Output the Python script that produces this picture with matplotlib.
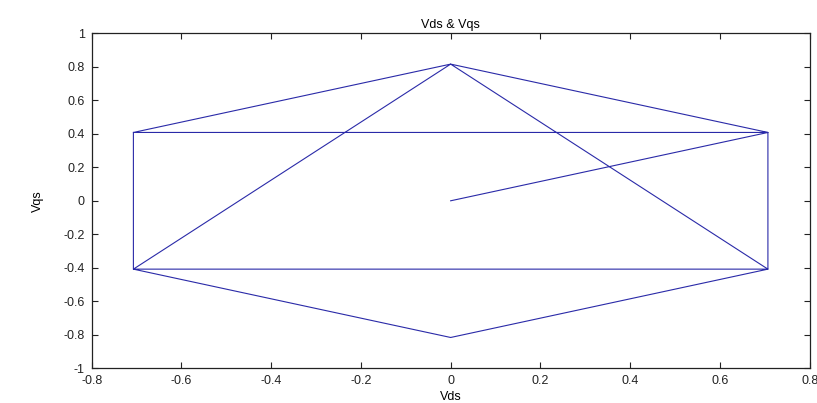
import matplotlib
matplotlib.use("Agg")
import matplotlib.pyplot as plt

# path of the space-vector trace (Vds, Vqs)
vds = [0.0, 0.707, 0.0, 0.707, 0.707, -0.707, 0.0, -0.707, 0.707, 0.0, -0.707, -0.707]
vqs = [0.0, 0.408, 0.816, -0.408, 0.408, 0.408, 0.816, -0.408, -0.408, -0.816, -0.408, 0.408]

xticks = [-0.8, -0.6, -0.4, -0.2, 0, 0.2, 0.4, 0.6, 0.8]
xticklabels = ["-0.8", "-0.6", "-0.4", "-0.2", "0", "0.2", "0.4", "0.6", "0.8"]
yticks = [-1, -0.8, -0.6, -0.4, -0.2, 0, 0.2, 0.4, 0.6, 0.8, 1]
yticklabels = ["-1", "-0.8", "-0.6", "-0.4", "-0.2", "0", "0.2", "0.4", "0.6", "0.8", "1"]

plt.rcParams['font.family'] = ['Liberation Sans', 'DejaVu Sans']

fig = plt.figure(figsize=(8.17, 4.03), dpi=100)
ax = fig.add_axes([0.1122, 0.0861, 0.8788, 0.8313])
ax.plot(vds, vqs, color='#2a2aa8', linewidth=0.8)
ax.set_xlim(-0.8, 0.8)
ax.set_ylim(-1, 1)
ax.set_xticks(xticks)
ax.set_xticklabels(xticklabels)
ax.set_yticks(yticks)
ax.set_yticklabels(yticklabels)
ax.tick_params(direction='in', length=4, width=0.8, top=True, right=True,
               labelsize=9, colors='#222222', pad=3)
ax.tick_params(axis='x', pad=5)
ax.tick_params(axis='y', pad=5)
for s in ax.spines.values():
    s.set_linewidth(0.9)
    s.set_color('#222222')
ax.set_title("Vds & Vqs", fontsize=9, pad=4)
ax.set_xlabel("Vds", fontsize=9, labelpad=3)
ax.set_ylabel("Vqs", fontsize=9, labelpad=14)
fig.savefig("out.png", dpi=100)
